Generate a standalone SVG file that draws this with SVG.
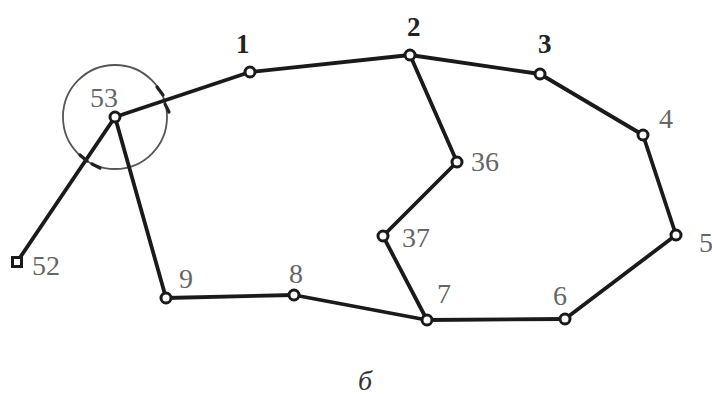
<svg xmlns="http://www.w3.org/2000/svg" width="712" height="396" viewBox="0 0 712 396">
<style>
.e{stroke:#1a1a1a;stroke-width:3.8;fill:none;stroke-linecap:round}
.n{fill:#fff;stroke:#1a1a1a;stroke-width:3}
text{font-family:"Liberation Serif","Times New Roman","DejaVu Serif",serif}
.l{font-size:28px;fill:#666}
.b{font-size:27px;font-weight:bold;fill:#222}
.t{stroke:#222;stroke-width:3.2;fill:none;stroke-linecap:round}
</style>
<rect width="712" height="396" fill="#fff"/>
<circle cx="115" cy="117" r="52" fill="none" stroke="#555" stroke-width="1.8"/>
<g id="connectors">
<line class="e" x1="17" y1="262" x2="115" y2="117"/>
<line class="e" x1="115" y1="117" x2="250" y2="72"/>
<line class="e" x1="250" y1="72" x2="410" y2="55"/>
<line class="e" x1="410" y1="55" x2="540" y2="74"/>
<line class="e" x1="540" y1="74" x2="643" y2="135"/>
<line class="e" x1="643" y1="135" x2="676" y2="235"/>
<line class="e" x1="676" y1="235" x2="565" y2="319"/>
<line class="e" x1="565" y1="319" x2="427" y2="320"/>
<line class="e" x1="427" y1="320" x2="294" y2="295"/>
<line class="e" x1="294" y1="295" x2="166" y2="298"/>
<line class="e" x1="166" y1="298" x2="115" y2="117"/>
<line class="e" x1="410" y1="55" x2="457" y2="162"/>
<line class="e" x1="457" y1="162" x2="383" y2="236"/>
<line class="e" x1="383" y1="236" x2="427" y2="320"/>
<path class="t" d="M157 87 L163 95 M165 104 L169 112 M80 155 L87 161 M92 164 L100 168"/>
</g>
<g id="n52"><rect class="n" x="12.5" y="257.5" width="9" height="9"/><text class="l" x="32" y="275">52</text></g>
<g id="n53"><circle class="n" cx="115" cy="117" r="5"/><text class="l" x="90" y="107">53</text></g>
<g id="n1"><circle class="n" cx="250" cy="72" r="5"/><text class="b" x="236" y="53">1</text></g>
<g id="n2"><circle class="n" cx="410" cy="55" r="5"/><text class="b" x="407" y="36">2</text></g>
<g id="n3"><circle class="n" cx="540" cy="74" r="5"/><text class="b" x="538" y="53">3</text></g>
<g id="n4"><circle class="n" cx="643" cy="135" r="5"/><text class="l" x="659" y="128">4</text></g>
<g id="n5"><circle class="n" cx="676" cy="235" r="5"/><text class="l" x="699" y="252">5</text></g>
<g id="n6"><circle class="n" cx="565" cy="319" r="5"/><text class="l" x="553" y="305">6</text></g>
<g id="n7"><circle class="n" cx="427" cy="320" r="5"/><text class="l" x="437" y="303">7</text></g>
<g id="n8"><circle class="n" cx="294" cy="295" r="5"/><text class="l" x="289" y="283">8</text></g>
<g id="n9"><circle class="n" cx="166" cy="298" r="5"/><text class="l" x="179" y="288">9</text></g>
<g id="n36"><circle class="n" cx="457" cy="162" r="5"/><text class="l" x="471" y="171">36</text></g>
<g id="n37"><circle class="n" cx="383" cy="236" r="5"/><text class="l" x="402" y="247">37</text></g>
<text x="358" y="390" style="font-size:28px;font-style:italic;fill:#333">б</text>
</svg>
